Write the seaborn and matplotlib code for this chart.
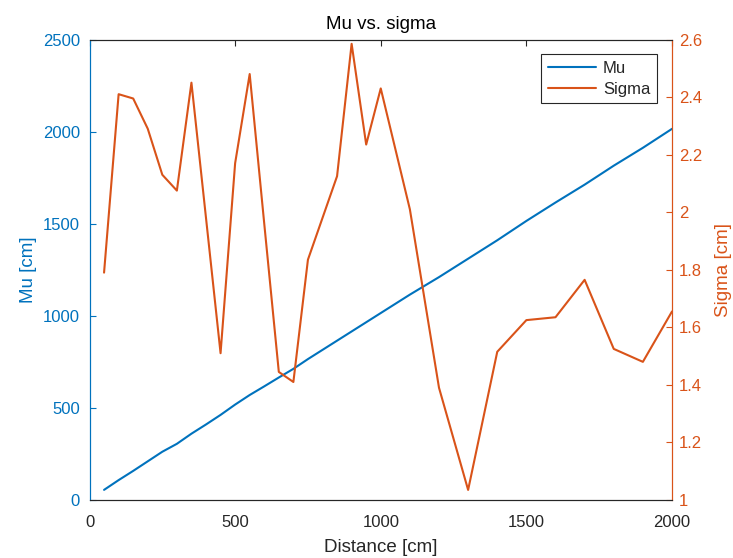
import matplotlib
matplotlib.use("Agg")
import matplotlib.pyplot as plt
import seaborn as sns
import pandas as pd

distance = [50, 100, 150, 200, 250, 300, 350, 400, 450, 500,
            550, 600, 650, 700, 750, 800, 850, 900, 950, 1000,
            1100, 1200, 1300, 1400, 1500, 1600, 1700, 1800, 1900, 2000]
mu = [55, 108, 158, 210, 262, 305, 360, 410, 462, 518,
      570, 617, 665, 712, 765, 815, 865, 915, 965, 1015,
      1115, 1210, 1310, 1410, 1515, 1615, 1712, 1815, 1912, 2015]
sigma = [1.79, 2.41, 2.395, 2.29, 2.13, 2.075, 2.45, 1.98, 1.51, 2.17,
         2.48, 1.96, 1.445, 1.41, 1.835, 1.98, 2.125, 2.585, 2.235, 2.43,
         2.01, 1.39, 1.035, 1.515, 1.625, 1.635, 1.765, 1.525, 1.48, 1.655]

x_ticks = [0, 500, 1000, 1500, 2000]
mu_ticks = [0, 500, 1000, 1500, 2000, 2500]
sigma_ticks = [1, 1.2, 1.4, 1.6, 1.8, 2, 2.2, 2.4, 2.6]
sigma_ticklabels = ["1", "1.2", "1.4", "1.6", "1.8", "2", "2.2", "2.4", "2.6"]

df = pd.DataFrame({"Distance": distance, "Mu": mu, "Sigma": sigma})

sns.set_style("white")
plt.rcParams["font.family"] = ["Liberation Sans", "DejaVu Sans"]

BLUE = "#0072BD"
ORANGE = "#D95319"
DARK = "#262626"

fig = plt.figure(figsize=(7.33, 5.58), dpi=100)
ax = fig.add_axes([89.5 / 733, 1 - 500 / 558, (672 - 89.5) / 733, (500 - 39.5) / 558])
ax2 = ax.twinx()

sns.lineplot(data=df, x="Distance", y="Mu", ax=ax, color=BLUE, linewidth=1.5, label="Mu", legend=False)
sns.lineplot(data=df, x="Distance", y="Sigma", ax=ax2, color=ORANGE, linewidth=1.5, label="Sigma", legend=False)

ax.set_xlim(0, 2000)
ax.set_ylim(0, 2500)
ax2.set_ylim(1, 2.6)
ax.set_xticks(x_ticks)
ax.set_yticks(mu_ticks)
ax2.set_yticks(sigma_ticks)
ax2.set_yticklabels(sigma_ticklabels)

ax.set_title("Mu vs. sigma", fontsize=13.5, color="black", pad=7.5)
ax.set_xlabel("Distance [cm]", fontsize=13.5, color=DARK, labelpad=6)
ax.set_ylabel("Mu [cm]", fontsize=13.5, color=BLUE, labelpad=4)
ax2.set_ylabel("Sigma [cm]", fontsize=13.5, color=ORANGE, labelpad=9)

for a in (ax, ax2):
    for s in a.spines.values():
        s.set_linewidth(0.8)
        s.set_visible(True)
    a.spines["bottom"].set_color(DARK)
    a.spines["top"].set_color(DARK)
    a.spines["left"].set_color(BLUE)
    a.spines["right"].set_color(ORANGE)
    a.tick_params(direction="in", length=4, width=0.8, labelsize=12)

ax.tick_params(axis="x", colors=DARK, top=True, pad=11)
ax.tick_params(axis="y", colors=BLUE, left=True, pad=7)
ax2.tick_params(axis="y", colors=ORANGE, right=True, pad=5)
ax2.tick_params(axis="x", top=False, bottom=False)

h1, l1 = ax.get_legend_handles_labels()
h2, l2 = ax2.get_legend_handles_labels()
leg = ax2.legend(h1 + h2, l1 + l2, loc="upper right", bbox_to_anchor=(0.974, 0.968),
                 fontsize=12, frameon=True, fancybox=False, framealpha=1,
                 edgecolor=DARK, borderpad=0.4, handlelength=2.9, labelspacing=0.35,
                 handletextpad=0.4, borderaxespad=0)
leg.get_frame().set_linewidth(0.8)

fig.savefig("out.png", dpi=100)
